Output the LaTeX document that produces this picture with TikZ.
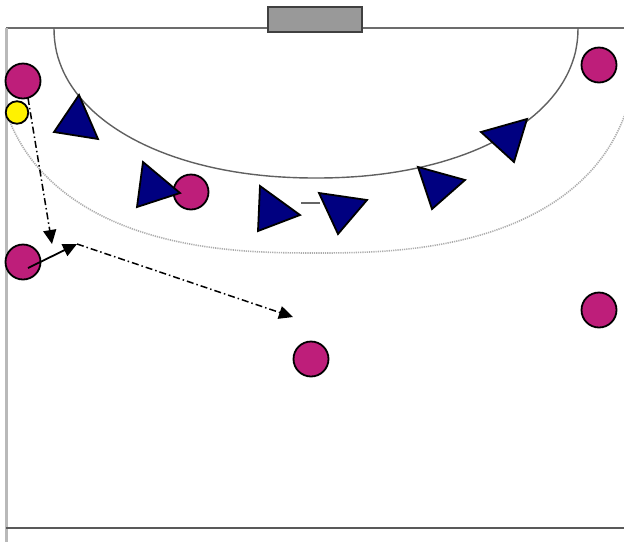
\documentclass[tikz,border=0pt]{standalone}
\usetikzlibrary{arrows.meta}
\definecolor{pmag}{RGB}{190,30,122}
\definecolor{pnavy}{RGB}{0,0,128}
\definecolor{goalgray}{RGB}{153,153,153}
\tikzset{
  player/.style={circle,draw=black,line width=1.8pt,fill=pmag,minimum size=35pt,inner sep=0pt},
  ballnode/.style={circle,draw=black,line width=1.8pt,fill=yellow,minimum size=22.5pt,inner sep=0pt},
  defender/.style={draw=black,line width=1.8pt,fill=pnavy,line join=miter},
  courtline/.style={draw=gray!85!black,line width=1.4pt},
  passline/.style={line width=1.5pt,dash pattern=on 7pt off 3pt on 1.5pt off 3pt,-{Triangle[length=14pt,width=13pt]}},
  runline/.style={line width=1.8pt,-{Triangle[length=14pt,width=13pt]}},
}
\begin{document}
\begin{tikzpicture}[x=1pt,y=-1pt]
\useasboundingbox (0,0) rectangle (624,542);
% court
\draw[courtline] (6,28) -- (624,28);
\draw[draw=gray!55,line width=3pt] (6,28) -- (6,542);
\draw[draw=gray!70!black,line width=1.6pt] (6,528) -- (624,528);
% goal
\node[draw=gray!50!black,line width=1.4pt,fill=goalgray,minimum width=94pt,minimum height=25pt,inner sep=0pt] (goal) at (315,19.5) {};
% goal area line
\draw[draw=gray!75!black,line width=1.4pt] plot[domain=0.01:179.99,samples=90]
  ({316+262*sign(cos(\x))*pow(abs(cos(\x)),0.95)},{28+150*pow(sin(\x),0.95)});
% free throw line (dotted)
\draw[draw=gray!65,line width=1.6pt,dash pattern=on 1.2pt off 1pt] plot[domain=17.5:162,samples=90]
  ({316+321*sign(cos(\x))*pow(abs(cos(\x)),0.8)},{28+225*pow(sin(\x),0.8)});
% attackers
\node[player] (p1) at (23,81) {};
\node[player] (p2) at (599,65) {};
\node[player] (p3) at (191,192) {};
\node[player] (p4) at (23,262) {};
\node[player] (p5) at (599,310) {};
\node[player] (p6) at (311,359) {};
\node[ballnode] (ball) at (17,112.5) {};
% movement
\coordinate (a1s) at (28,98);
\coordinate (a1e) at (52,244);
\coordinate (a2s) at (28,268);
\coordinate (a2e) at (77,244);
\coordinate (a3e) at (293,317);
\draw[passline] (a1s) -- (a1e);
\draw[runline] (a2s) -- (a2e);
\draw[passline] (a2e) -- (a3e);
% defenders
\draw[draw=gray!80!black,line width=1.4pt] (301,203) -- (320,203);
\path[defender] (79,95) -- (54,132) -- (98,139) -- cycle;
\path[defender] (143,162) -- (137,207) -- (180,193) -- cycle;
\path[defender] (260,186) -- (258,231) -- (300,215) -- cycle;
\path[defender] (319,193) -- (367,200) -- (338,234) -- cycle;
\path[defender] (418,167) -- (465,180) -- (432,209) -- cycle;
\path[defender] (481,132) -- (527,119) -- (514,162) -- cycle;
\end{tikzpicture}
\end{document}
